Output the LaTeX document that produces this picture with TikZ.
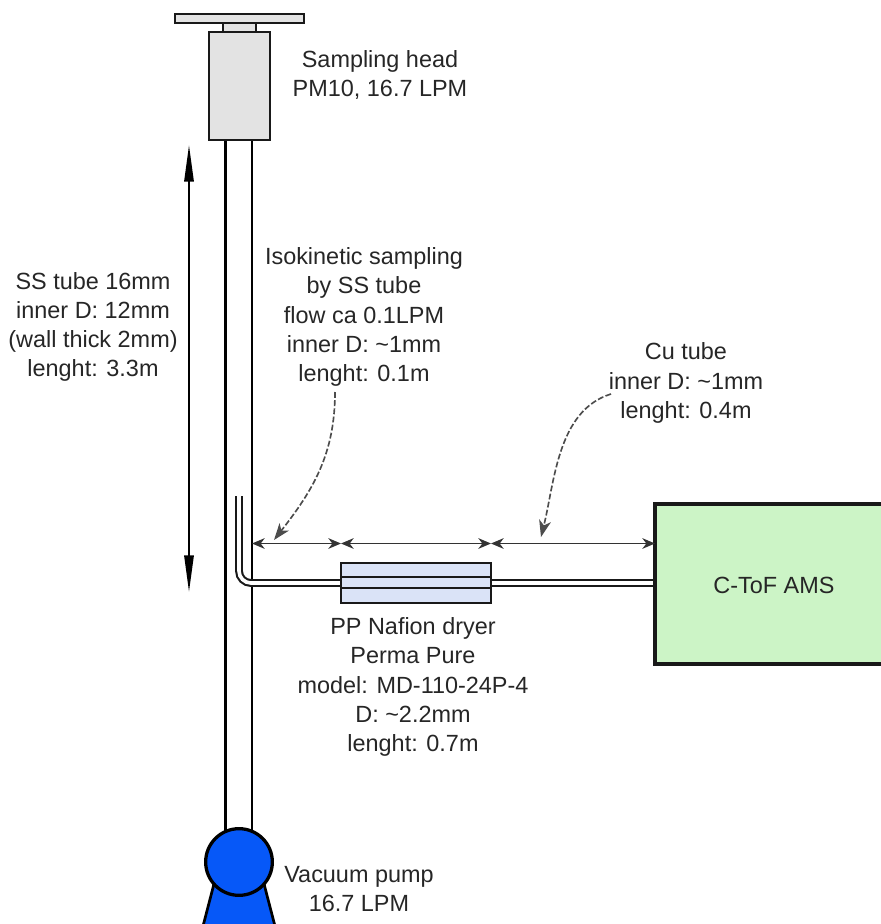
\documentclass[tikz,border=0pt]{standalone}
\usepackage{xcolor}
\usepackage{fontspec}
\setmainfont{Liberation Sans}
\usetikzlibrary{
    arrows.meta,
    positioning
}
\definecolor{headgray}{HTML}{E3E3E3}
\definecolor{dryerblue}{HTML}{DAE3F7}
\definecolor{amsgreen}{HTML}{CCF4C6}
\definecolor{pumpblue}{HTML}{0658F8}

\begin{document}
\begin{tikzpicture}[
    x=0.03cm,
    y=-0.03cm,
    font=\fontsize{20}{24.9}\selectfont,
    part/.style={
        rectangle,
        draw=black!90,
        line width=2.1pt,
        inner sep=0pt
    },
    wall/.style={
        draw=black,
        line width=2.2pt
    },
    tubing/.style={
        draw=black!90,
        line width=1.8pt,
        double=white,
        double distance=3.1pt
    },
    span/.style={
        {Stealth[length=3.8mm,width=3.2mm,inset=1.2mm]}-{Stealth[length=3.8mm,width=3.2mm,inset=1.2mm]},
        draw=black!80,
        line width=1.3pt
    },
    bigspan/.style={
        {Stealth[length=11mm,width=2.8mm,inset=0pt]}-{Stealth[length=11mm,width=2.8mm,inset=0pt]},
        draw=black,
        line width=1.7pt
    },
    callout/.style={
        -{Stealth[length=5mm,width=3.6mm,inset=1.4mm]},
        draw=black!70,
        dash pattern=on 5pt off 2pt,
        line width=1.4pt
    },
    note/.style={
        align=center,
        text=black!85,
        inner sep=0pt
    }
]
\useasboundingbox (0,0) rectangle (881,924);

% =========================================================
% Main tube and pump
% =========================================================
\coordinate (wallLtop) at (225.5,140);
\coordinate (wallRtop) at (252,140);
\coordinate (wallLend) at (225.5,835);
\coordinate (wallRend) at (252,835);
\draw[wall] (wallLtop) -- (wallLend);
\draw[wall] (wallRtop) -- (wallRend);

\draw[draw=black, line width=2.3pt, fill=pumpblue]
    (215,880) -- (202,930) -- (276,930) -- (263,880) -- cycle;
\node[circle, draw=black, line width=2.8pt, fill=pumpblue,
      minimum size=2.0cm, inner sep=0pt] (pump) at (239,862) {};

% =========================================================
% Sampling head
% =========================================================
\node[part, fill=headgray, minimum width=0.99cm, minimum height=0.3cm] (neck) at (239.5,27) {};
\node[part, fill=headgray, minimum width=3.87cm, minimum height=0.27cm] (plate) at (239.5,18.5) {};
\node[part, fill=headgray, minimum width=1.815cm, minimum height=3.24cm] (head) at (239.5,86) {};

% =========================================================
% Dryer and instrument
% =========================================================
\coordinate (inlet) at (239,496);
\node[part, fill=dryerblue, minimum width=4.5cm, minimum height=1.2cm] (dryer) at (416,583) {};
\node[part, fill=amsgreen, line width=2.6pt, minimum width=6.9cm, minimum height=4.8cm] (ams) at (770,584) {};

\draw[part, line width=1.7pt] (dryer.west |- 0,577) -- (dryer.east |- 0,577);
\draw[part, line width=1.7pt] (dryer.west |- 0,588) -- (dryer.east |- 0,588);

\draw[tubing, rounded corners=0.36cm] (inlet) |- (dryer.west);
\draw[tubing] (dryer.east) -- (ams.west |- dryer.east);

% =========================================================
% Dimension arrows
% =========================================================
\coordinate (spanA) at (252,543.5);
\coordinate (spanB) at (341,543.5);
\coordinate (spanC) at (491,543.5);
\coordinate (spanD) at (655,543.5);
\draw[span] (spanA) -- (spanB);
\draw[span] (spanB) -- (spanC);
\draw[span] (spanC) -- (spanD);

\coordinate (bigtop) at (189,145);
\coordinate (bigbottom) at (189,592);
\draw[bigspan] (bigtop) -- (bigbottom);

% =========================================================
% Labels
% =========================================================
\node[note] (headlabel) at (380,75) {Sampling head\\PM10, 16.7 LPM};
\node[note] (sslabel) at (93,327) {SS tube 16mm\\inner D: 12mm\\(wall thick 2mm)\\lenght: 3.3m};
\node[note] (isolabel) at (364,317) {Isokinetic sampling\\by SS tube\\flow ca 0.1LPM\\inner D: \textasciitilde1mm\\lenght: 0.1m};
\node[note] (culabel) at (686,383) {Cu tube\\inner D: \textasciitilde1mm\\lenght: 0.4m};
\node[note] (dryerlabel) at (413,687) {PP Nafion dryer\\Perma Pure\\model: MD-110-24P-4\\D: \textasciitilde2.2mm\\lenght: 0.7m};
\node[note] (pumplabel) at (359,889) {Vacuum pump\\16.7 LPM};
\node[note] (amslabel) at (774,585) {C-ToF AMS};

% =========================================================
% Dashed callouts
% =========================================================
\coordinate (isostart) at (335,392);
\coordinate (isotip) at (274,540);
\coordinate (custart) at (611,394);
\coordinate (cutip) at (541,537);
\draw[callout] (isostart) to[out=-90,in=52] (isotip);
\draw[callout] (custart) to[out=197,in=76,looseness=0.9] (cutip);

\end{tikzpicture}
\end{document}
